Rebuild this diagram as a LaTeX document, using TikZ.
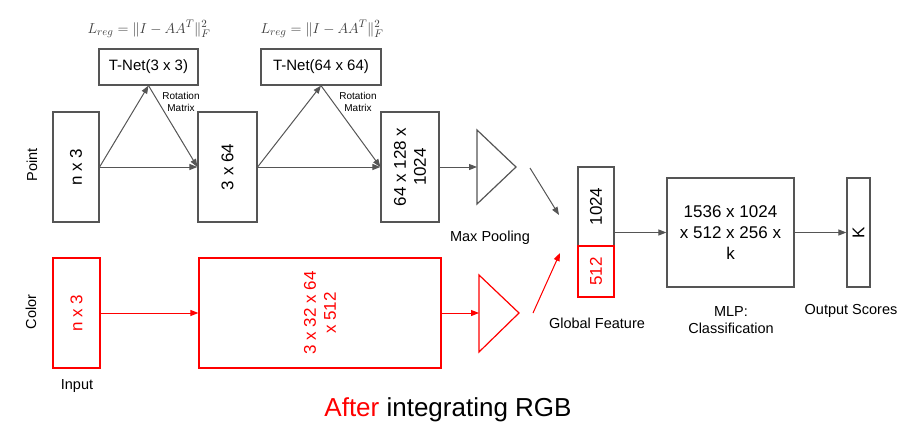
\documentclass[tikz,border=0pt]{standalone}
\usepackage{fontspec}
\setmainfont{Liberation Sans}
\usepackage{amsmath}
\usepackage{tikz}
\usetikzlibrary{arrows.meta,positioning}
\definecolor{linegray}{RGB}{85,85,85}
\definecolor{formgray}{RGB}{60,60,60}
\tikzset{
    blk/.style={
        rectangle,
        draw=linegray,
        line width=1.2pt,
        inner sep=0pt
    },
    rblk/.style={blk, draw=red},
    arr/.style={-{Triangle[length=8pt,width=6pt]}, draw=linegray, line width=1pt},
    rarr/.style={arr, draw=red, fill=red},
    boxtxt/.style={rotate=90, align=center, font=\fontsize{17}{20}\selectfont},
    lbl/.style={align=center, font=\fontsize{14.5}{17}\selectfont}
}
\begin{document}
\begin{tikzpicture}[x=1pt,y=-1pt]
        \useasboundingbox (0,0) rectangle (900,445);
        % Blocchi Point
        \node[blk, minimum width=46pt, minimum height=110pt] (p1) at (76,167) {};
        \node[blk, minimum width=59pt, minimum height=110pt] (p2) at (227.5,167) {};
        \node[blk, minimum width=58pt, minimum height=110pt] (p3) at (410,167) {};
        \node[boxtxt] at (p1) {n x 3};
        \node[boxtxt] at (p2) {3 x 64};
        \node[boxtxt] at (p3) {64 x 128 x\\1024};
        
        % T-Net
        \node[blk, minimum width=99pt, minimum height=36pt, font=\fontsize{15}{18}\selectfont] (tnet1) at (148.5,67) {T-Net(3 x 3)};
        \node[blk, minimum width=120pt, minimum height=36pt, font=\fontsize{15}{18}\selectfont] (tnet2) at (321,67) {T-Net(64 x 64)};
        \node[text=formgray, inner sep=1pt, font=\fontsize{15}{17}\selectfont] (lreg1) at (149,29) {$L_{reg}=\|I-AA^T\|_F^2$};
        \node[text=formgray, inner sep=1pt, font=\fontsize{15}{17}\selectfont] (lreg2) at (322,29) {$L_{reg}=\|I-AA^T\|_F^2$};
        \node[align=center, font=\fontsize{10}{12}\selectfont] (rot1) at (181,102) {Rotation\\Matrix};
        \node[align=center, font=\fontsize{10}{12}\selectfont] (rot2) at (358,102) {Rotation\\Matrix};
        
        % Blocchi Color
        \node[rblk, minimum width=47pt, minimum height=110pt] (c1) at (76.5,313) {};
        \node[rblk, minimum width=242pt, minimum height=110pt] (c2) at (320,313) {};
        \node[boxtxt, text=red] at (c1) {n x 3};
        \node[boxtxt, text=red] at (c2) {3 x 32 x 64\\x 512};
        
        % Max pooling
        \draw[blk] (477,130) -- (516,167) -- (477,204) -- cycle;
        \draw[rblk] (479,275) -- (519,313) -- (479,352) -- cycle;
        \coordinate (mp1) at (477,167);
        \coordinate (mp2) at (479,313);
        
        % Global feature, MLP, output
        \node[blk, minimum width=36pt, minimum height=79pt] (gf1) at (596,206.5) {};
        \node[rblk, minimum width=36pt, minimum height=51pt] (gf2) at (596,271.5) {};
        \node[boxtxt] at (gf1) {1024};
        \node[boxtxt, text=red] at (gf2) {512};
        \node[blk, minimum width=127pt, minimum height=109pt, align=center, font=\fontsize{17}{21}\selectfont] (mlp) at (730.5,232.5) {1536 x 1024\\x 512 x 256 x\\k};
        \node[blk, minimum width=23pt, minimum height=109pt] (out) at (858.5,232.5) {};
        \node[boxtxt] at (out) {K};
        
        % Frecce
        \draw[arr] (p1.east) -- (p2.west);
        \draw[arr] (p1.east) -- (tnet1.south);
        \draw[arr] (tnet1.south) -- (p2.west);
        \draw[arr] (p2.east) -- (p3.west);
        \draw[arr] (p2.east) -- (tnet2.south);
        \draw[arr] (tnet2.south) -- (p3.west);
        \draw[arr] (p3.east) -- (mp1);
        \draw[rarr] (c1.east) -- (c2.west);
        \draw[rarr] (c2.east) -- (mp2);
        \coordinate (d1) at (530,168);
        \coordinate (d2) at (559,215);
        \coordinate (d3) at (533,313);
        \coordinate (d4) at (560,253);
        \draw[arr] (d1) -- (d2);
        \draw[rarr] (d3) -- (d4);
        \draw[arr] (gf1.east |- mlp.west) -- (mlp.west);
        \draw[arr] (mlp.east) -- (out.west);
        
        % Etichette
        \node[lbl, rotate=90] (lpoint) at (32,165) {Point};
        \node[lbl, rotate=90] (lcolor) at (31,312) {Color};
        \node[lbl] (linput) at (77,386) {Input};
        \node[lbl] (lmax) at (490,238) {Max Pooling};
        \node[lbl] (lglob) at (597,323) {Global Feature};
        \node[lbl] (lmlp) at (731,320) {MLP:\\Classification};
        \node[lbl] (lout) at (851,311) {Output Scores};
        \node[font=\fontsize{26}{30}\selectfont] (title) at (448,410) {\textcolor{red}{After} integrating RGB};
    \end{tikzpicture}
\end{document}
